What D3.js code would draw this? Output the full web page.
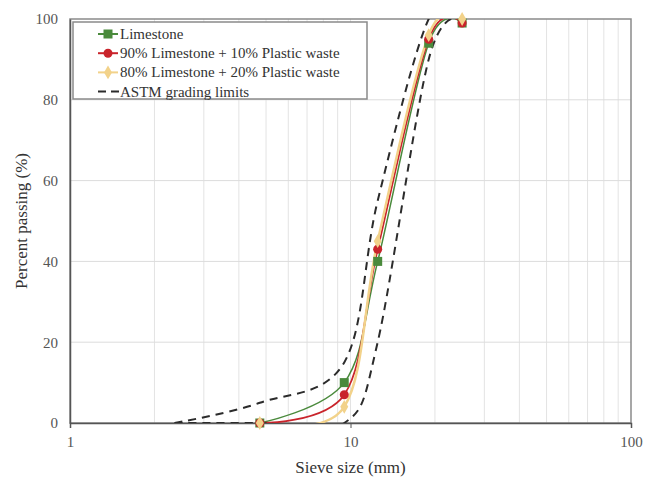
<!DOCTYPE html>
<html>
<head>
<meta charset="utf-8">
<script src="https://cdn.jsdelivr.net/npm/d3@7/dist/d3.min.js"></script>
<style>
  body { margin: 0; background: #fff; }
  text { font-family: "Liberation Serif", "DejaVu Serif", serif; }
</style>
</head>
<body>
<div id="chart"></div>
<script>
const width = 648, height = 479;
const margin = {top: 19, right: 17, bottom: 56, left: 70};

// Données
const sieves = [4.75, 9.5, 12.5, 19, 25];
const limestone = [0, 10, 40, 94, 99];
const mix90 = [0, 7, 43, 95, 99];
const mix80 = [0, 4, 45, 96, 100];

const astmUpperSizes = [2.36, 4.75, 9.5, 12.5, 19, 25];
const astmUpper = [0, 5, 15, 55, 100, 100];
const astmLowerSizes = [2.36, 4.75, 9.5, 12.5, 19, 25];
const astmLower = [0, 0, 0, 20, 90, 100];

const xTicks = [1, 10, 100];
const yTicks = [0, 20, 40, 60, 80, 100];
const legendLabels = ["Limestone", "90% Limestone + 10% Plastic waste", "80% Limestone + 20% Plastic waste", "ASTM grading limits"];

const svg = d3.select("#chart").append("svg")
  .attr("width", width)
  .attr("height", height);

const x = d3.scaleLog().domain([1, 100]).range([margin.left, width - margin.right]);
const y = d3.scaleLinear().domain([0, 100]).range([height - margin.bottom, margin.top]);

// Grille
const minor = [];
[1, 10].forEach(b => { for (let k = 2; k <= 9; k++) minor.push(b * k); });
svg.append("g").selectAll("line").data(minor).join("line")
  .attr("x1", d => x(d)).attr("x2", d => x(d))
  .attr("y1", y(0)).attr("y2", y(100))
  .attr("stroke", "#e3e3e3").attr("stroke-width", 1);
svg.append("g").selectAll("line").data(yTicks.slice(1, -1)).join("line")
  .attr("x1", x(1)).attr("x2", x(100))
  .attr("y1", d => y(d)).attr("y2", d => y(d))
  .attr("stroke", "#dcdcdc").attr("stroke-width", 1);
svg.append("line")
  .attr("x1", x(10)).attr("x2", x(10)).attr("y1", y(0)).attr("y2", y(100))
  .attr("stroke", "#e3e3e3");

// Cadre
svg.append("rect")
  .attr("x", x(1)).attr("y", y(100))
  .attr("width", x(100) - x(1)).attr("height", y(0) - y(100))
  .attr("fill", "none").attr("stroke", "#8a8a8a").attr("stroke-width", 1.5);

// Axes
const xAxis = svg.append("g")
  .attr("transform", `translate(0,${y(0)})`)
  .call(d3.axisBottom(x).tickValues(xTicks).tickFormat(d3.format("d")).tickSize(5).tickPadding(8));
const yAxis = svg.append("g")
  .attr("transform", `translate(${x(1)},0)`)
  .call(d3.axisLeft(y).tickValues(yTicks).tickSize(0).tickPadding(12));
[xAxis, yAxis].forEach(a => {
  a.select(".domain").attr("stroke", "#555").attr("stroke-width", 1.5);
  a.selectAll(".tick line").attr("stroke", "#555");
  a.selectAll("text").attr("font-size", 15).attr("fill", "#555")
    .style("font-family", "'Liberation Serif', serif");
});

// Titres des axes
svg.append("text")
  .attr("x", (x(1) + x(100)) / 2).attr("y", 473)
  .attr("text-anchor", "middle").attr("font-size", 17).attr("fill", "#333")
  .text("Sieve size (mm)");
svg.append("text")
  .attr("transform", `translate(27,${(y(0) + y(100)) / 2}) rotate(-90)`)
  .attr("text-anchor", "middle").attr("font-size", 17).attr("fill", "#333")
  .text("Percent passing (%)");

// Courbes
svg.append("clipPath").attr("id", "clip").append("rect")
  .attr("x", x(1)).attr("y", y(100))
  .attr("width", x(100) - x(1)).attr("height", y(0) - y(100));
const plot = svg.append("g").attr("clip-path", "url(#clip)");

const line = d3.line()
  .x(d => x(d[0])).y(d => y(d[1]))
  .curve(d3.curveCardinal.tension(0));

const series = [
  {vals: limestone, color: "#4a8a3c", width: 1.5, shape: "square"},
  {vals: mix90, color: "#c9242b", width: 1.8, shape: "circle"},
  {vals: mix80, color: "#f2d28a", width: 2.5, shape: "diamond"}
];

series.forEach(s => {
  plot.append("path")
    .datum(sieves.map((v, i) => [v, s.vals[i]]))
    .attr("fill", "none").attr("stroke", s.color).attr("stroke-width", s.width)
    .attr("d", line);
});

const astm = [
  astmUpperSizes.map((v, i) => [v, astmUpper[i]]),
  astmLowerSizes.map((v, i) => [v, astmLower[i]])
];
astm.forEach(d => {
  plot.append("path").datum(d)
    .attr("fill", "none").attr("stroke", "#2b2b2b").attr("stroke-width", 2)
    .attr("stroke-dasharray", "8,6")
    .attr("d", line);
});

function marker(g, shape, color, cx, cy) {
  if (shape === "square") {
    g.append("rect").attr("x", cx - 4.5).attr("y", cy - 4.5).attr("width", 9).attr("height", 9).attr("fill", color);
  } else if (shape === "circle") {
    g.append("circle").attr("cx", cx).attr("cy", cy).attr("r", 4.5).attr("fill", color);
  } else {
    g.append("path").attr("d", d3.symbol(d3.symbolDiamond, 55)()).attr("transform", `translate(${cx},${cy})`).attr("fill", color);
  }
}

const pts = svg.append("g");
series.forEach(s => {
  sieves.forEach((v, i) => marker(pts, s.shape, s.color, x(v), y(s.vals[i])));
});

// Légende
const lg = svg.append("g");
lg.append("rect")
  .attr("x", 73).attr("y", 22).attr("width", 294).attr("height", 77)
  .attr("fill", "#fff").attr("stroke", "#8a8a8a").attr("stroke-width", 1.5);
legendLabels.forEach((t, i) => {
  const ly = 34 + i * 19.2;
  if (i < 3) {
    lg.append("line").attr("x1", 98).attr("x2", 118).attr("y1", ly).attr("y2", ly)
      .attr("stroke", series[i].color).attr("stroke-width", 2);
    marker(lg, series[i].shape, series[i].color, 108, ly);
  } else {
    lg.append("line").attr("x1", 98).attr("x2", 119).attr("y1", ly).attr("y2", ly)
      .attr("stroke", "#2b2b2b").attr("stroke-width", 2).attr("stroke-dasharray", "8,5");
  }
  lg.append("text").attr("x", 120).attr("y", ly + 5)
    .attr("font-size", 15).attr("fill", "#333").text(t);
});
</script>
</body>
</html>
